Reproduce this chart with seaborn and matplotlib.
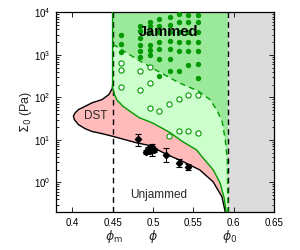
import matplotlib
matplotlib.use("Agg")
import matplotlib.pyplot as plt
import matplotlib.transforms as mtransforms
from matplotlib.ticker import LogLocator, FixedLocator, NullFormatter
import numpy as np
import pandas as pd
import seaborn as sns

# ---------------- data ----------------
phi_m = 0.45
phi_0 = 0.593
x_ticks = [0.4, 0.45, 0.5, 0.55, 0.6, 0.65]
x_tick_labels = ["0.4", "0.45", "0.5", "0.55", "0.6", "0.65"]

# black S-shaped curve (DST / unjammed boundary)
s_phi = [0.4500, 0.4497, 0.4454, 0.4370, 0.4244, 0.4161, 0.4077, 0.4033, 0.4014,
         0.4027, 0.4077, 0.4161, 0.4244, 0.4370, 0.4497,
         0.4799, 0.4955, 0.5165, 0.5370, 0.5583, 0.5746, 0.5855, 0.5897]
s_sigma = [200, 163, 117, 89, 74.5, 61.8, 51.7, 42.7, 35.9,
           29.9, 22.8, 18.3, 15.8, 14.0, 12.2,
           8.5, 7.4, 4.6, 3.1, 1.95, 1.03, 0.46, 0.20]

# green solid curve (jamming boundary)
g_phi = [0.45, 0.45, 0.4523, 0.4554, 0.4629, 0.4746, 0.4830, 0.4997, 0.5206,
         0.5373, 0.5541, 0.5624, 0.5750, 0.5834, 0.5884, 0.5909]
g_sigma = [12000, 172, 117, 87, 62, 43, 33.4, 25, 15.1,
           9.0, 5.8, 3.7, 1.95, 0.95, 0.42, 0.20]

# green dashed curve
d_phi = [0.4504, 0.4642, 0.4814, 0.5077, 0.5316, 0.5558, 0.5708, 0.5796,
         0.5859, 0.5897, 0.5922, 0.5931]
d_sigma = [1795, 1224, 769, 400, 225, 142, 89, 49, 26.9, 10, 3.4, 0.2]

# jammed states (filled dots)
jam_phi = ([0.460] * 3 + [0.484] * 6 + [0.497] * 6 + [0.508] * 7 +
           [0.521] * 7 + [0.532] * 6 + [0.543] * 6 + [0.556] * 7)
jam_sigma = [2980, 1790, 1180,
             4920, 3740, 2490, 1700, 1220, 906,
             6120, 4790, 3450, 1750, 1330, 1010,
             7010, 4790, 3450, 2000, 1370, 791, 313,
             7820, 5060, 3450, 2110, 1370, 813, 422,
             9200, 6120, 3450, 2060, 1220, 422,
             8730, 5960, 3450, 2060, 1260, 571,
             8730, 5960, 3450, 2060, 1260, 602, 281]

# unjammed states above DST (open circles)
open_phi = ([0.460] * 3 + [0.484] * 2 + [0.496] * 3 + [0.508] +
            [0.520] * 2 + [0.532] * 2 + [0.543] * 2 + [0.556] * 2)
open_sigma = [661, 434, 176,
              422, 146,
              525, 213, 57.6,
              48.9,
              70.5, 12.5,
              94, 16.0,
              117, 16.0,
              111, 14.7]

# measured onset stresses (diamonds with error bars)
dia_phi = [0.4817, 0.4918, 0.4943, 0.4968, 0.4993, 0.5018, 0.5165, 0.5319, 0.5436]
dia_sigma = [10.3, 5.2, 6.0, 5.5, 6.7, 5.8, 4.4, 2.87, 2.3]
dia_lo = [7.2, 4.6, 5.4, 4.9, 4.2, 5.2, 3.0, 2.3, 1.96]
dia_hi = [14.0, 5.9, 6.7, 6.2, 8.1, 6.5, 6.5, 3.5, 2.7]

# ---------------- style ----------------
sns.set_style("ticks")
plt.rcParams['font.family'] = ['Liberation Sans', 'DejaVu Sans']
plt.rcParams['mathtext.fontset'] = 'dejavusans'

PINK = '#ffbaba'
LGREEN = '#ccffcc'
DGREEN = '#9be99b'
GLINE = '#009a00'
GRAY = '#dcdcdc'

fig = plt.figure(figsize=(3.0, 2.5), dpi=100)
ax = fig.add_axes([0.187, 0.152, 0.726, 0.798])
ax.set_yscale('log')
ymin, ymax = 0.2, 1.0e4
ax.set_xlim(0.38, 0.65)
ax.set_ylim(ymin, ymax)

# regions
ax.axvspan(phi_0, 0.65, color=GRAY, lw=0, zorder=0)
lg_x = g_phi + [phi_0, phi_0]
lg_y = g_sigma + [ymin, g_sigma[0]]
ax.fill(lg_x, lg_y, color=LGREEN, lw=0, zorder=1)
dg_x = [phi_m] + d_phi + [phi_0, phi_0, phi_m]
dg_y = [d_sigma[0]] + d_sigma + [ymin, g_sigma[0], g_sigma[0]]
ax.fill(dg_x, dg_y, color=DGREEN, lw=0, zorder=1)
pk_x = s_phi[1:] + g_phi[1:][::-1]
pk_y = s_sigma[1:] + g_sigma[1:][::-1]
ax.fill(pk_x, pk_y, color=PINK, lw=0, zorder=1)

# vertical dashed lines
ax.axvline(phi_m, color='black', lw=1.0, ls=(0, (4, 3)), zorder=2)
ax.axvline(phi_0, color='black', lw=1.0, ls=(0, (4, 3)), zorder=2)

# curves
sns.lineplot(x=d_phi, y=d_sigma, sort=False, estimator=None, ax=ax,
             color=GLINE, lw=1.0, linestyle=(0, (4, 3)), zorder=3)
sns.lineplot(x=s_phi, y=s_sigma, sort=False, estimator=None, ax=ax,
             color='black', lw=1.0, zorder=4)
sns.lineplot(x=g_phi, y=g_sigma, sort=False, estimator=None, ax=ax,
             color=GLINE, lw=1.0, zorder=4)

# points
sns.scatterplot(x=jam_phi, y=jam_sigma, ax=ax, color=GLINE, s=15,
                edgecolor=GLINE, linewidth=0, zorder=5)
sns.scatterplot(x=open_phi, y=open_sigma, ax=ax, facecolor='white', s=14,
                edgecolor=GLINE, linewidth=0.8, zorder=5)
yerr = [np.array(dia_sigma) - np.array(dia_lo), np.array(dia_hi) - np.array(dia_sigma)]
ax.errorbar(dia_phi, dia_sigma, yerr=yerr, fmt='D', color='black', ms=3.2,
            elinewidth=0.8, capsize=2, capthick=0.8, zorder=6)

# labels inside
ax.text(0.519, 10 ** 3.53, 'Jammed', fontsize=10.5, fontweight='bold',
        color='black', ha='center', va='center', zorder=10)
ax.text(0.4287, 10 ** 1.555, 'DST', fontsize=8.5, ha='center', va='center', zorder=10)
ax.text(0.5071, 0.5, 'Unjammed', fontsize=8.5, ha='center', va='center', zorder=10)

# axes/ticks
ax.xaxis.set_major_locator(FixedLocator(x_ticks))
ax.set_xticklabels(x_tick_labels)
ax.yaxis.set_major_locator(LogLocator(base=10, numticks=10))
ax.yaxis.set_minor_locator(LogLocator(base=10, subs=np.arange(2, 10), numticks=20))
ax.yaxis.set_minor_formatter(NullFormatter())
ax.tick_params(axis='both', which='both', direction='in', top=True, right=True,
               labelsize=7, width=0.6, colors='black')
ax.tick_params(axis='both', which='major', length=3.5, pad=4)
ax.tick_params(axis='both', which='minor', length=1.8)
for sp in ax.spines.values():
    sp.set_linewidth(0.9)
    sp.set_color('black')

ax.set_ylabel(r'$\Sigma_0$ (Pa)', fontsize=9, labelpad=0)
ax.set_xlabel('')
trans = mtransforms.blended_transform_factory(ax.transData, ax.transAxes)
ax.text(0.5, -0.125, r'$\phi$', transform=trans, fontsize=9, ha='center', va='center')
ax.text(phi_m + 0.002, -0.125, r'$\phi_{\rm m}$', transform=trans, fontsize=9,
        ha='center', va='center')
ax.text(phi_0 + 0.002, -0.125, r'$\phi_0$', transform=trans, fontsize=9,
        ha='center', va='center')

fig.savefig('out.png', dpi=100)
